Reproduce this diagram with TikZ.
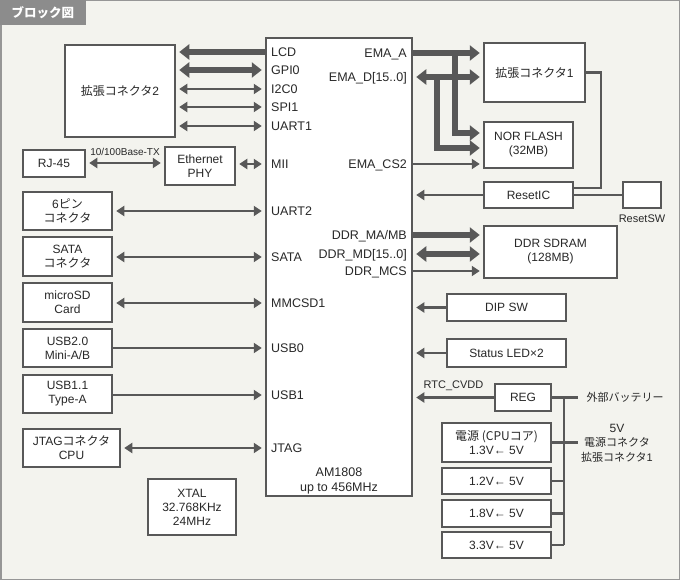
\documentclass[tikz,border=0pt]{standalone}
\usepackage{fontspec}
\setmainfont{Liberation Sans}
\newfontfamily\jp{Noto Sans CJK JP}
\usetikzlibrary{arrows.meta,positioning,calc}
\definecolor{paper}{RGB}{243,243,238}
\definecolor{frame}{RGB}{150,150,150}
\definecolor{tabgray}{RGB}{140,140,140}
\definecolor{wire}{RGB}{88,88,88}
\definecolor{ink}{RGB}{40,40,40}
\newcommand{\boxfont}{\fontsize{12}{14}\selectfont}
\newcommand{\pinfont}{\fontsize{12.5}{15}\selectfont}
\newcommand{\tinyfont}{\fontsize{11}{13}\selectfont}
\tikzset{
  blk/.style 2 args={draw=wire,fill=white,line width=2.5pt,minimum width=#1pt,
    minimum height=#2pt,inner sep=0pt,align=center,font=\boxfont,text=ink},
  pin/.style={font=\pinfont,inner sep=0pt,text height=9pt,text depth=0pt,text=ink},
  note/.style={font=\tinyfont,inner sep=0pt,text=ink},
  sig/.style={draw=wire,line width=2.3pt,>={Triangle[length=8pt,width=10pt]}},
  bus/.style={draw=wire,line width=5.3pt,>={Triangle[length=10pt,width=15pt]}},
}

\begin{document}
\begin{tikzpicture}[x=1pt,y=-1pt]
  % paper and title tab
  \fill[paper] (0,0) rectangle (680,580);
  \useasboundingbox (0,0) rectangle (680,580);
  \draw[frame,line width=1.5pt] (0.75,0.75) rectangle (679.25,579.25);
  \fill[tabgray] (0,0) rectangle (86,25);
  \node[text=white,font={\jp\bfseries\fontsize{12.5}{14}\selectfont}] (title) at (43,13) {ブロック図};

  % CPU
  \node[blk={146}{458}] (chip) at (339,267) {};
  \node[font=\pinfont,align=center,text=ink] (cpuname) at (339,481) {AM1808\\up to 456MHz};
  \foreach \n/\t/\y in {lcd/LCD/52,gpio/GPI0/70,iic/I2C0/89,spi/SPI1/107,uarta/UART1/126,
      mii/MII/164,uartb/UART2/211,satap/SATA/257,mmc/MMCSD1/303,usba/USB0/348,
      usbb/USB1/395,jtagp/JTAG/448}
    \node[pin,anchor=west] (\n) at (271,\y) {\t};
  \foreach \n/\t/\y in {emaa/EMA\_A/53,emad/EMA\_D[15..0]/77,emacs/EMA\_CS2/164,
      ddra/{DDR\_MA/MB}/235,ddrd/DDR\_MD[15..0]/254,ddrc/DDR\_MCS/271}
    \node[pin,anchor=east] (\n) at (407,\y) {\t};

  % left side
  \node[blk={110}{92}] (ext2) at (120,91) {{\jp 拡張コネクタ}2};
  \node[blk={62}{27}] (rj) at (54,163.5) {RJ-45};
  \node[blk={70}{38}] (phy) at (200,166) {Ethernet\\PHY};
  \node[blk={89}{38}] (pin6) at (67.5,211) {6{\jp ピン}\\{\jp コネクタ}};
  \node[blk={89}{39}] (sata) at (67.5,256.5) {SATA\\{\jp コネクタ}};
  \node[blk={89}{39}] (sd) at (67.5,302.5) {microSD\\Card};
  \node[blk={89}{38}] (usbmini) at (67.5,348) {USB2.0\\Mini-A/B};
  \node[blk={89}{38}] (usbtype) at (67.5,394) {USB1.1\\Type-A};
  \node[blk={97}{38}] (jtag) at (71.5,448) {JTAG{\jp コネクタ}\\CPU};
  \node[blk={88}{56}] (xtal) at (192,507) {XTAL\\32.768KHz\\24MHz};

  % right side
  \node[blk={101}{59}] (ext1) at (534.5,72.5) {{\jp 拡張コネクタ}1};
  \node[blk={89}{46}] (nor) at (528.5,145) {NOR FLASH\\(32MB)};
  \node[blk={89}{26}] (rstic) at (528.5,195) {ResetIC};
  \node[blk={38}{26}] (rstsw) at (642,195) {};
  \node[note,below=5pt of rstsw] (rstswlbl) {ResetSW};
  \node[blk={133}{52}] (ddr) at (550.5,252) {DDR SDRAM\\(128MB)};
  \node[blk={119}{27}] (dip) at (506.5,307.5) {DIP SW};
  \node[blk={119}{28}] (led) at (506.5,353) {Status LED×2};
  \node[blk={56}{27}] (reg) at (523,397.5) {REG};
  \node[blk={109}{39}] (pwa) at (496.5,442.5) {{\jp 電源 (CPUコア)}\\1.3V← 5V};
  \node[blk={109}{26}] (pwb) at (496.5,481) {1.2V← 5V};
  \node[blk={109}{27}] (pwc) at (496.5,513.5) {1.8V← 5V};
  \node[blk={109}{26}] (pwd) at (496.5,545) {3.3V← 5V};
  \node[font={\jp\fontsize{11}{13}\selectfont},anchor=west,text=ink] (batt) at (583,397) {外部バッテリー};
  \node[font={\jp\fontsize{11}{14.5}\selectfont},align=center,text=ink] (vin) at (617,443) {{\fontspec{Liberation Sans}\fontsize{12}{14.5}\selectfont 5V}\\電源コネクタ\\拡張コネクタ{\fontspec{Liberation Sans}1}};

  % left connections
  \draw[bus,->,shorten >=3pt] (chip.west |- lcd) -- (ext2.east |- lcd);
  \draw[bus,<->,shorten >=3pt,shorten <=3pt] (ext2.east |- gpio) -- (chip.west |- gpio);
  \foreach \p in {iic,spi,uarta}
    \draw[sig,<->,shorten >=3pt,shorten <=3pt] (ext2.east |- \p) -- (chip.west |- \p);
  \draw[sig,<->,shorten >=3pt,shorten <=3pt] (rj.east |- 0,163) -- (phy.west |- 0,163)
    node[note,font=\fontsize{10}{12}\selectfont,midway,above=6pt] (base) {10/100Base-TX};
  \draw[sig,<->,shorten >=3pt,shorten <=3pt] (phy.east |- mii) -- (chip.west |- mii);
  \foreach \b/\p in {pin6/uartb,sata/satap,sd/mmc,jtag/jtagp}
    \draw[sig,<->,shorten >=3pt,shorten <=3pt] (\b.east |- \p) -- (chip.west |- \p);
  \foreach \b/\p in {usbmini/usba,usbtype/usbb}
    \draw[sig,->,shorten >=3pt] (\b.east |- \p) -- (chip.west |- \p);

  % EMA bus
  \coordinate (atap) at (455,53);
  \coordinate (dtap) at (437,77);
  \draw[bus,->,shorten >=3pt] (chip.east |- emaa) -- (ext1.west |- emaa);
  \draw[bus,->,shorten >=3pt] (atap) |- (nor.west |- 0,133);
  \draw[bus,<->,shorten >=3pt,shorten <=3pt] (chip.east |- emad) -- (ext1.west |- emad);
  \draw[bus,->,shorten >=3pt] (dtap) |- (nor.west |- 0,148);
  \draw[sig,->,shorten >=3pt] (chip.east |- emacs) -- (nor.west |- emacs);

  % reset
  \coordinate (rturn) at (601,188);
  \draw[sig] (ext1.east) -| (rturn) -- (rstic.east |- rturn);
  \draw[sig] (rstic.east) -- (rstsw.west);
  \draw[sig,->,shorten >=3pt] (rstic.west) -- (chip.east |- rstic.west);

  % DDR
  \draw[bus,->,shorten >=3pt] (chip.east |- ddra) -- (ddr.west |- ddra);
  \draw[bus,<->,shorten >=3pt,shorten <=3pt] (chip.east |- ddrd) -- (ddr.west |- ddrd);
  \draw[sig,->,shorten >=3pt] (chip.east |- ddrc) -- (ddr.west |- ddrc);

  % misc inputs
  \draw[sig,->,shorten >=3pt] (dip.west) -- (chip.east |- dip.west);
  \draw[sig,->,shorten >=3pt] (led.west) -- (chip.east |- led.west);
  \draw[sig,->,shorten >=3pt] (reg.west) -- (chip.east |- reg.west)
    node[note,midway,above=6pt] (rtc) {RTC\_CVDD};

  % power
  \coordinate (ptop) at (564,397.5);
  \coordinate (pbot) at (564,545);
  \draw[sig] (reg.east) -- (578,397.5);
  \draw[sig] (ptop) -- (pbot);
  \draw[sig] (pwa.east) -- (578,442.5);
  \foreach \b in {pwb,pwc,pwd}
    \draw[sig] (\b.east) -- (ptop |- \b.east);
\end{tikzpicture}
\end{document}
